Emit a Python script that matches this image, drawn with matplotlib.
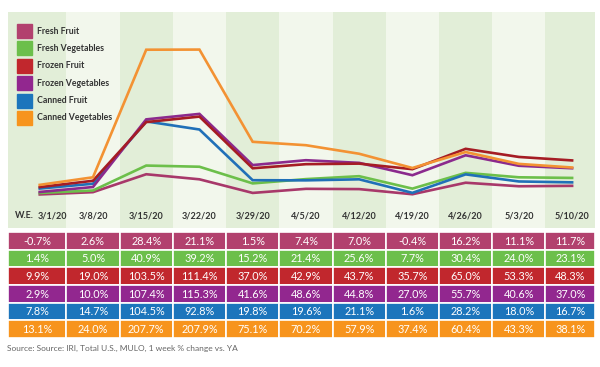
import matplotlib
matplotlib.use('Agg')
import matplotlib.pyplot as plt
from matplotlib.patches import Rectangle
from matplotlib.transforms import blended_transform_factory

plt.rcParams['font.family'] = ['Lato', 'DejaVu Sans']

weeks = ['3/1/20', '3/8/20', '3/15/20', '3/22/20', '3/29/20', '4/5/20',
         '4/12/20', '4/19/20', '4/26/20', '5/3/20', '5/10/20']
categories = ['Fresh Fruit', 'Fresh Vegetables', 'Frozen Fruit',
              'Frozen Vegetables', 'Canned Fruit', 'Canned Vegetables']

fresh_fruit = [-0.7, 2.6, 28.4, 21.1, 1.5, 7.4, 7.0, -0.4, 16.2, 11.1, 11.7]
fresh_veg = [1.4, 5.0, 40.9, 39.2, 15.2, 21.4, 25.6, 7.7, 30.4, 24.0, 23.1]
frozen_fruit = [9.9, 19.0, 103.5, 111.4, 37.0, 42.9, 43.7, 35.7, 65.0, 53.3, 48.3]
frozen_veg = [2.9, 10.0, 107.4, 115.3, 41.6, 48.6, 44.8, 27.0, 55.7, 40.6, 37.0]
canned_fruit = [7.8, 14.7, 104.5, 92.8, 19.8, 19.6, 21.1, 1.6, 28.2, 18.0, 16.7]
canned_veg = [13.1, 24.0, 207.7, 207.9, 75.1, 70.2, 57.9, 37.4, 60.4, 43.3, 38.1]

series = [fresh_fruit, fresh_veg, frozen_fruit, frozen_veg, canned_fruit, canned_veg]
fill_colors = ['#b2416e', '#6cbf4b', '#c1272d', '#92278f', '#1c75bc', '#f7941d']
line_colors = ['#a8386a', '#6cbf4a', '#a51c24', '#8b2a8d', '#2070b8', '#f39233']
line_order = [0, 1, 4, 3, 2, 5]

W, H = 600, 367
fig = plt.figure(figsize=(6, 3.67), dpi=100)

x = list(range(len(weeks)))
xmin, xmax = -0.596, 10.43

# chart panel
ax = fig.add_axes([8 / W, 1 - 228 / H, 587 / W, 216 / H])
ax.set_xlim(xmin, xmax)
ax.set_ylim(-49, 262)
ax.axis('off')
for i in x:
    left = xmin if i == 0 else i - 0.5
    right = xmax if i == len(x) - 1 else i + 0.5
    ax.axvspan(left, right, color='#e2eed8' if i % 2 == 0 else '#f2f7ec', lw=0, zorder=0)

for k in line_order:
    ax.plot(x, series[k], color=line_colors[k], lw=1.9, zorder=3,
            solid_joinstyle='miter')

tr = blended_transform_factory(ax.transData, ax.transAxes)
ax.text(-0.28, 0.056, 'W.E.', transform=tr, ha='center', va='center',
        fontsize=6.5, fontweight='bold', color='#333333')
for i, w in enumerate(weeks):
    xi = 0.23 if i == 0 else i
    ax.text(xi, 0.056, w, transform=tr, ha='center', va='center',
            fontsize=6.5, fontweight='bold', color='#333333')

# legend
for k, name in enumerate(categories):
    top = 24 + k * 17.4
    fig.patches.append(Rectangle((17 / W, 1 - (top + 14) / H), 15 / W, 14 / H,
                                 transform=fig.transFigure, color=fill_colors[k]))
    fig.text(37 / W, 1 - (top + 7) / H, name, ha='left', va='center',
             fontsize=6.3, fontweight='bold', color='#333333')

# table
tb = fig.add_axes([8 / W, 1 - 338 / H, 587 / W, 106 / H])
tb.set_xlim(xmin, xmax)
tb.set_ylim(len(series), 0)
tb.axis('off')
for r, vals in enumerate(series):
    for i, v in enumerate(vals):
        left = xmin if i == 0 else i - 0.5
        right = xmax if i == len(x) - 1 else i + 0.5
        tb.add_patch(Rectangle((left, r), right - left, 1, facecolor=fill_colors[r],
                               edgecolor='white', lw=1.2))
        tb.text((left + right) / 2, r + 0.52, '{:.1f}%'.format(v), ha='center',
                va='center', fontsize=7.8, color='white')

fig.text(7 / W, 1 - 348 / H, 'Source: Source: IRI, Total U.S., MULO, 1 week % change vs. YA',
         ha='left', va='center', fontsize=6.0, color='#666666')

fig.savefig('out.png', dpi=100)
